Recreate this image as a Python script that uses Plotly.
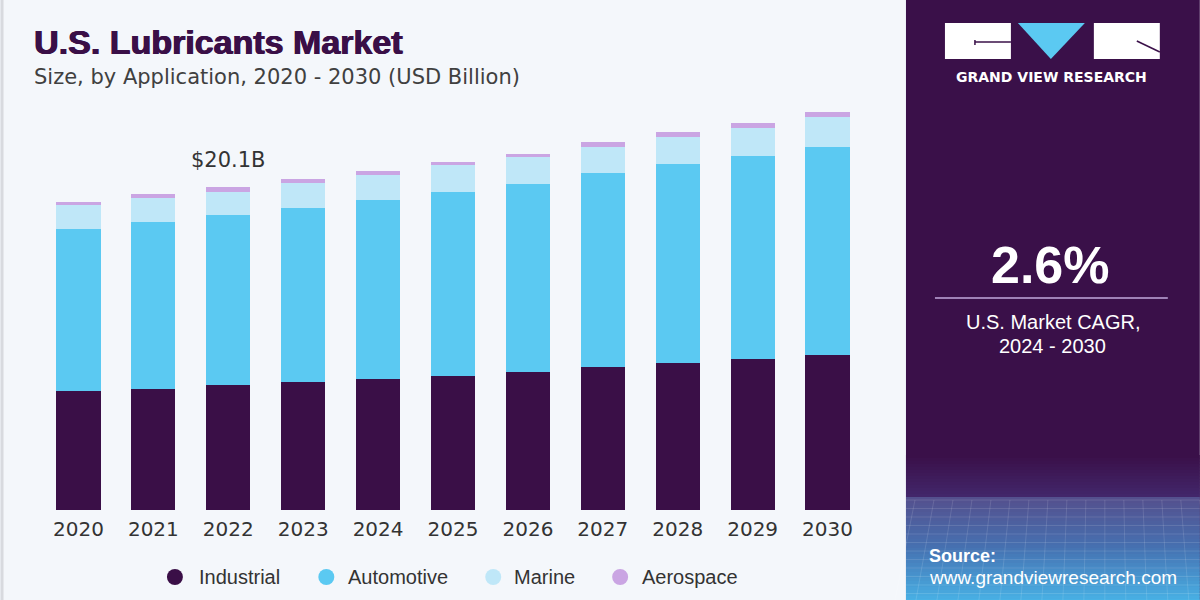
import plotly.graph_objects as go

years = ["2020", "2021", "2022", "2023", "2024", "2025", "2026", "2027", "2028", "2029", "2030"]
industrial = [7.41, 7.56, 7.79, 7.98, 8.16, 8.35, 8.60, 8.91, 9.16, 9.41, 9.66]
automotive = [10.09, 10.40, 10.61, 10.86, 11.15, 11.46, 11.71, 12.07, 12.38, 12.65, 12.98]
marine = [1.50, 1.48, 1.43, 1.56, 1.56, 1.68, 1.68, 1.66, 1.72, 1.76, 1.87]
aerospace = [0.22, 0.25, 0.27, 0.23, 0.25, 0.22, 0.22, 0.30, 0.27, 0.30, 0.30]
series_names = ["Industrial", "Automotive", "Marine", "Aerospace"]
colors = ["#3a0f47", "#5bc9f2", "#bfe7f8", "#caa5e3"]
highlight_year = "2022"
highlight_label = "$20.1B"

# plot area in pixels
L, R, T, B = 40.5, 865.0, 100.0, 510.0
W, H = 1200, 600


def px(x):
    return (x - L) / (R - L)


def py(y):
    return (B - y) / (B - T)


fig = go.Figure()
for name, vals, c in zip(series_names, [industrial, automotive, marine, aerospace], colors):
    fig.add_trace(go.Bar(x=years, y=vals, name=name, marker=dict(color=c, line=dict(width=0)),
                         showlegend=False, hoverinfo="skip"))

hi = years.index(highlight_year)
total_hi = industrial[hi] + automotive[hi] + marine[hi] + aerospace[hi]
fig.add_annotation(x=hi, y=total_hi, xref="x", yref="y", text=highlight_label, showarrow=False,
                   yshift=27, font=dict(size=21, color="#333333", family="DejaVu Sans"))

shapes = []
# right panel
shapes.append(dict(type="rect", xref="paper", yref="paper", x0=px(906), x1=px(1200), y0=py(0), y1=py(600),
                   fillcolor="#3a1049", line=dict(width=0), layer="below"))


def lerp(c1, c2, t):
    a = [int(c1[i:i + 2], 16) for i in (1, 3, 5)]
    b = [int(c2[i:i + 2], 16) for i in (1, 3, 5)]
    return "#" + "".join("%02x" % round(a[k] + (b[k] - a[k]) * t) for k in range(3))


stops = [(455, "#3a1049"), (494, "#42266a"), (497, "#54508e"), (545, "#4670b0"), (600, "#48b2e6")]
for i in range(len(stops) - 1):
    y0, c0 = stops[i]
    y1, c1 = stops[i + 1]
    y = y0
    while y < y1:
        t = (y - y0) / (y1 - y0)
        shapes.append(dict(type="rect", xref="paper", yref="paper", x0=px(906), x1=px(1200),
                           y0=py(y), y1=py(min(y + 3, y1) + 0.5), fillcolor=lerp(c0, c1, t),
                           line=dict(width=0), layer="below"))
        y += 3
# faint mesh lines
for k in range(12):
    yy = 500 + k * 8.5
    shapes.append(dict(type="line", xref="paper", yref="paper", x0=px(906), x1=px(1200), y0=py(yy), y1=py(yy),
                       line=dict(color="rgba(255,255,255,0.12)", width=1), layer="below"))
for k in range(16):
    xx = 915 + k * 19
    shapes.append(dict(type="line", xref="paper", yref="paper", x0=px(xx), x1=px(xx - 20 + k * 2), y0=py(500), y1=py(600),
                       line=dict(color="rgba(255,255,255,0.12)", width=1), layer="below"))
# left thin border
shapes.append(dict(type="rect", xref="paper", yref="paper", x0=px(0), x1=px(3), y0=py(0), y1=py(600),
                   fillcolor="#d8dadf", line=dict(width=0), layer="below"))
# logo
shapes.append(dict(type="rect", xref="paper", yref="paper", x0=px(945), x1=px(1011), y0=py(59), y1=py(23),
                   fillcolor="white", line=dict(width=0)))
shapes.append(dict(type="line", xref="paper", yref="paper", x0=px(975), x1=px(1011), y0=py(42), y1=py(42),
                   line=dict(color="#3a1049", width=1.5)))
shapes.append(dict(type="line", xref="paper", yref="paper", x0=px(975), x1=px(975), y0=py(40), y1=py(45),
                   line=dict(color="#3a1049", width=1.5)))
tri = "M %f,%f L %f,%f L %f,%f Z" % (px(1018), py(23), px(1085), py(23), px(1051), py(59))
shapes.append(dict(type="path", xref="paper", yref="paper", path=tri, fillcolor="#5bc9f2", line=dict(width=0)))
shapes.append(dict(type="rect", xref="paper", yref="paper", x0=px(1094), x1=px(1160), y0=py(59), y1=py(23),
                   fillcolor="white", line=dict(width=0)))
shapes.append(dict(type="line", xref="paper", yref="paper", x0=px(1137), x1=px(1160), y0=py(41), y1=py(52),
                   line=dict(color="#3a1049", width=1.5)))
# divider
shapes.append(dict(type="line", xref="paper", yref="paper", x0=px(935), x1=px(1168), y0=py(298), y1=py(298),
                   line=dict(color="#c2a8dc", width=1.5)))

ann = [
    dict(text="<b>U.S. Lubricants Market</b>", x=px(31), y=py(42), xanchor="left", yanchor="middle",
         font=dict(size=34, color="#3a0f47", family="Liberation Sans",
                   shadow="0.8px 0px 0px #3a0f47, -0.4px 0px 0px #3a0f47")),
    dict(text="Size, by Application, 2020 - 2030 (USD Billion)", x=px(31), y=py(77), xanchor="left",
         yanchor="middle", font=dict(size=21, color="#404040", family="DejaVu Sans")),
    dict(text="<b>GRAND VIEW RESEARCH</b>", x=px(1052), y=py(77.5), xanchor="center", yanchor="middle",
         font=dict(size=14, color="white", family="DejaVu Sans")),
    dict(text="<b>2.6%</b>", x=px(1051), y=py(265), xanchor="center", yanchor="middle",
         font=dict(size=52, color="white", family="Liberation Sans")),
    dict(text="U.S. Market CAGR,", x=px(1053), y=py(322), xanchor="center", yanchor="middle",
         font=dict(size=20, color="white", family="Liberation Sans")),
    dict(text="2024 - 2030", x=px(1053), y=py(346), xanchor="center", yanchor="middle",
         font=dict(size=20, color="white", family="Liberation Sans")),
    dict(text="<b>Source:</b>", x=px(927), y=py(556), xanchor="left", yanchor="middle",
         font=dict(size=18, color="white", family="Liberation Sans")),
    dict(text="www.grandviewresearch.com", x=px(927), y=py(577), xanchor="left", yanchor="middle",
         font=dict(size=19, color="white", family="Liberation Sans")),
]

# legend (drawn as circles + labels)
legend_circle_x = [174.5, 326, 493, 620]
legend_text_x = [197, 346, 512, 640]
legend_y = 577
for name, c, cx, tx in zip(series_names, colors, legend_circle_x, legend_text_x):
    shapes.append(dict(type="circle", xref="paper", yref="paper", x0=px(cx - 8), x1=px(cx + 8),
                       y0=py(legend_y + 8), y1=py(legend_y - 8), fillcolor=c, line=dict(width=0)))
    ann.append(dict(text=name, x=px(tx), y=py(legend_y), xanchor="left", yanchor="middle",
                    font=dict(size=20, color="#333333", family="Liberation Sans")))

for a in ann:
    a.update(xref="paper", yref="paper", showarrow=False)
    fig.add_annotation(**a)

fig.update_layout(
    width=W, height=H, barmode="stack", bargap=0.41,
    paper_bgcolor="#f4f7fb", plot_bgcolor="#f4f7fb",
    margin=dict(l=L, r=W - R, t=T, b=H - B, pad=0),
    shapes=shapes,
    showlegend=False,
    xaxis=dict(type="category", showgrid=False, showline=False, ticks="",
               tickfont=dict(size=20, color="#333333", family="DejaVu Sans"),
               ticklabelstandoff=5, range=[-0.5, 10.5], fixedrange=True),
    yaxis=dict(showgrid=False, showline=False, zeroline=False, showticklabels=False,
               range=[0, 25.55], fixedrange=True),
)

fig.write_html("out.html", config={"displayModeBar": False},
               post_script="document.body.style.margin='0';document.body.style.overflow='hidden';")
